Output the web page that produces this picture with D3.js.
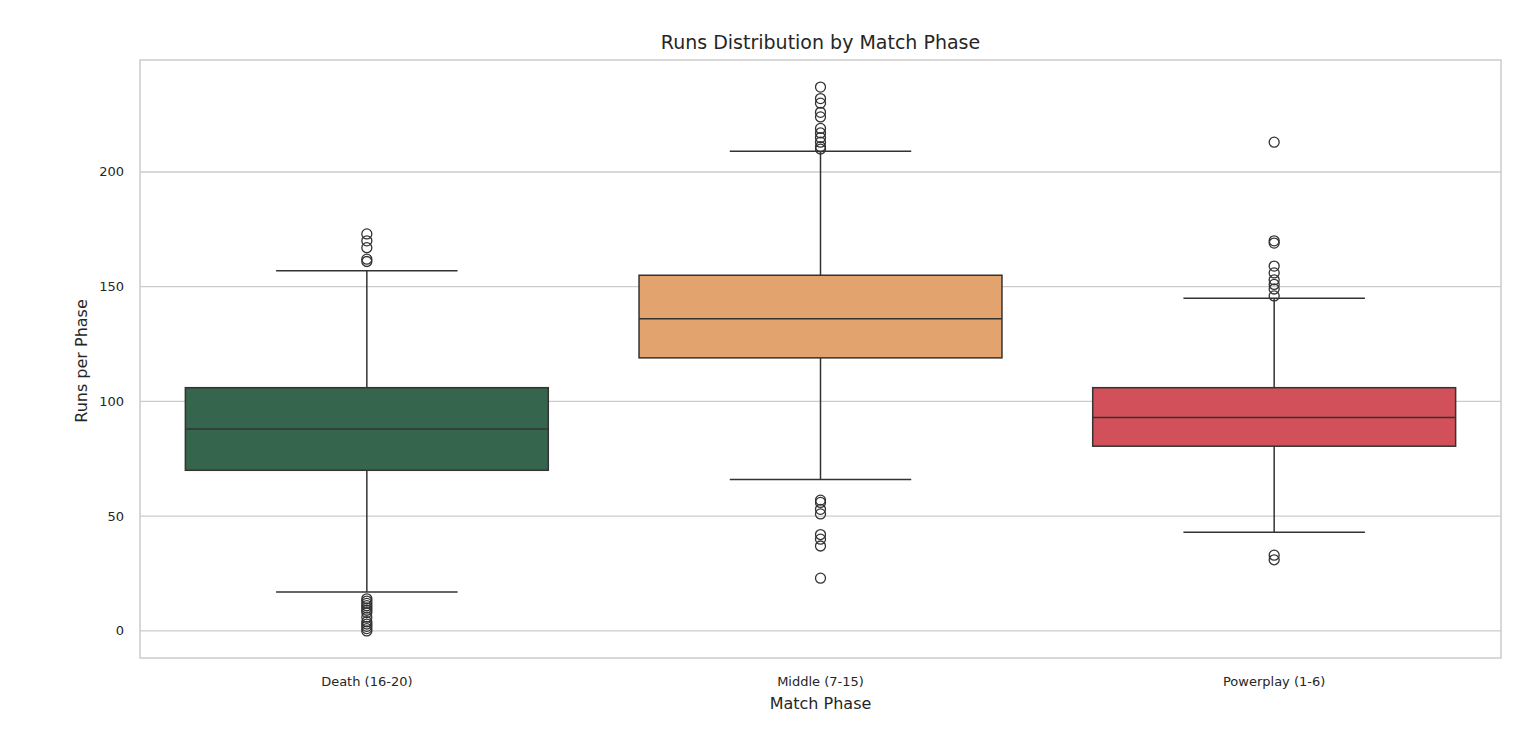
<!DOCTYPE html><html><head><meta charset="utf-8"><script src="https://cdn.jsdelivr.net/npm/d3@7"></script>
<style>body{margin:0;background:#fff;font-family:"DejaVu Sans",Arial,sans-serif}</style></head><body><svg id="c" width="1536" height="754"></svg>
<script>
const categories=["Death (16-20)","Middle (7-15)","Powerplay (1-6)"];
const colors=["#35654d","#e3a36f","#d2505a"];
const q1=[70,119,80.5],median=[88,136,93],q3=[106,155,106],whiskLo=[17,66,43],whiskHi=[157,209,145];
const outliers=[
 [173,170,167,162,161,14,13,12,11,10,9,8,6,4,3,2,1,0],
 [237,232,230,226,224,219,217,215,213,211,210,57,56,53,51,42,40,37,23],
 [213,170,169,159,156,153,151,149,146,33,31]];
const yTicks=[0,50,100,150,200];
const svg=d3.select("#c");
const L=140,R=1501,T=60,B=658;
const x=d3.scaleBand().domain(categories).range([L,R]).paddingInner(0.2).paddingOuter(0.1);
const y=d3.scaleLinear().domain([-11.8,248.8]).range([B,T]);
const g=svg.append("g");
g.selectAll(".gl").data(yTicks).enter().append("line").attr("x1",L).attr("x2",R).attr("y1",d=>y(d)).attr("y2",d=>y(d)).attr("stroke","#ccc").attr("stroke-width",1.3);
g.append("rect").attr("x",L).attr("y",T).attr("width",R-L).attr("height",B-T).attr("fill","none").attr("stroke","#ccc").attr("stroke-width",1.5);
g.selectAll(".yt").data(yTicks).enter().append("text").attr("x",L-16).attr("y",d=>y(d)+4.5).attr("text-anchor","end").attr("font-size",13).attr("fill","#262626").text(d=>d);
categories.forEach((c,i)=>{
 const bw=x.bandwidth(),cx=x(c)+bw/2,cap=bw/4;const s="#333";
 g.append("line").attr("x1",cx).attr("x2",cx).attr("y1",y(whiskHi[i])).attr("y2",y(q3[i])).attr("stroke",s).attr("stroke-width",1.5);
 g.append("line").attr("x1",cx).attr("x2",cx).attr("y1",y(q1[i])).attr("y2",y(whiskLo[i])).attr("stroke",s).attr("stroke-width",1.5);
 [whiskHi[i],whiskLo[i]].forEach(v=>g.append("line").attr("x1",cx-cap).attr("x2",cx+cap).attr("y1",y(v)).attr("y2",y(v)).attr("stroke",s).attr("stroke-width",1.5));
 g.append("rect").attr("x",x(c)).attr("width",bw).attr("y",y(q3[i])).attr("height",y(q1[i])-y(q3[i])).attr("fill",colors[i]).attr("stroke",s).attr("stroke-width",1.5);
 g.append("line").attr("x1",x(c)).attr("x2",x(c)+bw).attr("y1",y(median[i])).attr("y2",y(median[i])).attr("stroke",s).attr("stroke-width",1.5);
 outliers[i].forEach(v=>g.append("circle").attr("cx",cx).attr("cy",y(v)).attr("r",5).attr("fill","none").attr("stroke",s).attr("stroke-width",1.3));
 g.append("text").attr("x",cx).attr("y",B+28).attr("text-anchor","middle").attr("font-size",13).attr("fill","#262626").text(c);
});
svg.append("text").attr("x",(L+R)/2).attr("y",49).attr("text-anchor","middle").attr("font-size",19).attr("fill","#262626").text("Runs Distribution by Match Phase");
svg.append("text").attr("x",(L+R)/2).attr("y",709).attr("text-anchor","middle").attr("font-size",16).attr("fill","#262626").text("Match Phase");
svg.append("text").attr("transform",`translate(87,${(T+B)/2+2}) rotate(-90)`).attr("text-anchor","middle").attr("font-size",16).attr("fill","#262626").text("Runs per Phase");
</script></body></html>
